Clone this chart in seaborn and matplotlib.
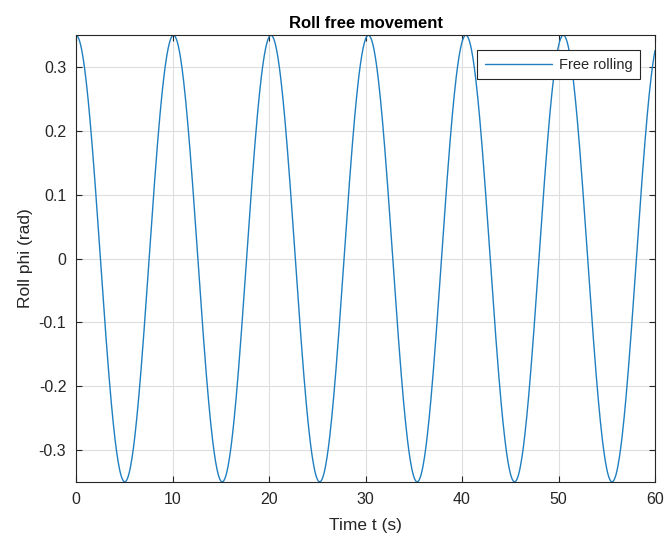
import numpy as np
import pandas as pd
import matplotlib
matplotlib.use("Agg")
import matplotlib.pyplot as plt
import seaborn as sns

# Values
amplitude_rad = 0.35      # initial roll angle (peaks touch the axis limits)
period_s = 10.1           # roll period, peaks at ~10.1, 20.2, 30.3, 40.4, 50.5 s
t_end = 60.0
x_ticks = [0, 10, 20, 30, 40, 50, 60]
y_ticks = [-0.3, -0.2, -0.1, 0, 0.1, 0.2, 0.3]
y_tick_labels = ["-0.3", "-0.2", "-0.1", "0", "0.1", "0.2", "0.3"]

time_s = np.linspace(0, t_end, 1201)
roll = amplitude_rad * np.cos(2 * np.pi * time_s / period_s)
df = pd.DataFrame({"Time t (s)": time_s, "Roll phi (rad)": roll, "series": "Free rolling"})

sns.set_style("white")
plt.rcParams["font.family"] = ["Liberation Sans", "DejaVu Sans"]

fig = plt.figure(figsize=(6.67, 5.42), dpi=100)
ax = fig.add_axes([0.114, 0.111, 0.868, 0.824])
sns.lineplot(data=df, x="Time t (s)", y="Roll phi (rad)", hue="series",
             palette=["#1f7fc0"], linewidth=1.0, ax=ax)

ax.set_xlim(0, 60)
ax.set_ylim(-0.35, 0.35)
ax.set_xticks(x_ticks)
ax.set_yticks(y_ticks)
ax.set_yticklabels(y_tick_labels)
ax.grid(True, color="#dedede", linewidth=0.8)
ax.set_axisbelow(True)
for s in ax.spines.values():
    s.set_color("#262626")
    s.set_linewidth(0.8)
    s.set_visible(True)
ax.tick_params(direction="in", length=4, width=0.8, color="#262626",
               labelcolor="#262626", labelsize=11.5, top=True, right=True,
               bottom=True, left=True, pad=7)
ax.set_xlabel("Time t (s)", fontsize=12.5, color="#262626", labelpad=8)
ax.set_ylabel("Roll phi (rad)", fontsize=12.5, color="#262626", labelpad=4)
ax.set_title("Roll free movement", fontsize=12, fontweight="bold", color="#000000", pad=5)

leg = ax.legend(loc="upper right", fontsize=10.5, frameon=True, fancybox=False,
                borderpad=0.5, handlelength=4.6, handletextpad=0.5,
                bbox_to_anchor=(0.974, 0.966), borderaxespad=0)
leg.get_frame().set_edgecolor("#262626")
leg.get_frame().set_linewidth(0.8)
leg.get_frame().set_alpha(1)

fig.savefig("out.png", dpi=100)
